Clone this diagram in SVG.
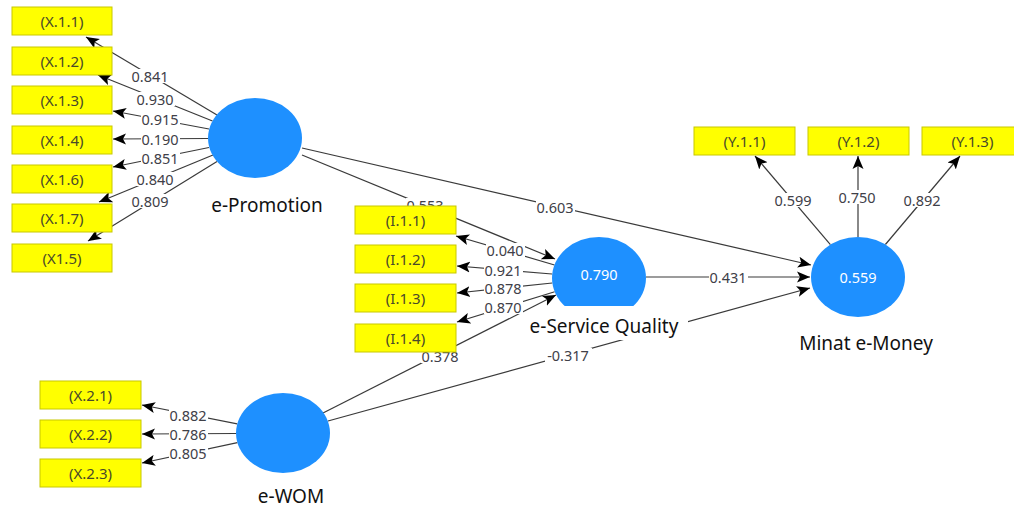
<svg xmlns="http://www.w3.org/2000/svg" width="1014" height="510" viewBox="0 0 1014 510">
<defs>
<marker id="ah" markerUnits="userSpaceOnUse" markerWidth="14" markerHeight="12" refX="13" refY="6" orient="auto">
<path d="M0,0.5 L13,6 L0,11.5 L3,6 Z" fill="#000"/>
</marker>
<style>
.bg{fill:#fff}
.ind rect{fill:#ffff00;stroke:#c8c800;stroke-width:1}
.ind text{font-family:"Noto Sans","Open Sans",sans-serif;font-size:15px;fill:#4a4a2a;text-anchor:middle;dominant-baseline:central}
.lv ellipse{fill:#1e90ff}
.lv text.v{font-family:"Noto Sans","Open Sans",sans-serif;font-size:14.5px;fill:#fff;text-anchor:middle;dominant-baseline:central}
.lv text.n{font-family:"Noto Sans","Open Sans",sans-serif;font-size:19px;fill:#111;text-anchor:middle}
.c line{stroke:#3a3a3a;stroke-width:1.2;marker-end:url(#ah)}
.lb rect{fill:#fff}
.lb text{font-family:"Noto Sans","Open Sans",sans-serif;font-size:14.5px;fill:#404048;text-anchor:middle;dominant-baseline:central}
</style>
</defs>
<rect width="1014" height="510" fill="#fff"/>

<g id="connectors" class="c">
<line x1="217" y1="115" x2="86" y2="37"/>
<line x1="212.5" y1="121" x2="98" y2="75"/>
<line x1="209" y1="129" x2="113" y2="111"/>
<line x1="208" y1="138.5" x2="113" y2="139"/>
<line x1="209" y1="147.5" x2="113" y2="167"/>
<line x1="213" y1="155" x2="99" y2="202"/>
<line x1="217" y1="161.5" x2="88" y2="241"/>
<line x1="554.5" y1="265" x2="456" y2="236"/>
<line x1="552" y1="274" x2="457" y2="266"/>
<line x1="552.3" y1="283" x2="457" y2="293"/>
<line x1="554.7" y1="291.7" x2="457" y2="322"/>
<line x1="830.4" y1="244.6" x2="755" y2="156"/>
<line x1="858" y1="237" x2="858" y2="156"/>
<line x1="885.4" y1="244.5" x2="960" y2="156"/>
<line x1="237.2" y1="423.9" x2="142" y2="405"/>
<line x1="236" y1="433.5" x2="142" y2="434"/>
<line x1="237.4" y1="442.7" x2="142" y2="463"/>
<line x1="302" y1="155" x2="555" y2="259"/>
<line x1="302" y1="148" x2="811" y2="265"/>
<line x1="646" y1="277" x2="810" y2="277"/>
<line x1="323" y1="413" x2="556" y2="295"/>
<line x1="328" y1="421" x2="810" y2="288"/>
</g>

<g id="labels" class="lb">
<rect x="131" y="69" width="39" height="14"/><text x="150" y="76">0.841</text>
<rect x="136" y="92" width="39" height="14"/><text x="155" y="99">0.930</text>
<rect x="141" y="112" width="39" height="14"/><text x="160" y="119">0.915</text>
<rect x="141" y="132" width="39" height="14"/><text x="160" y="139">0.190</text>
<rect x="141" y="151" width="39" height="14"/><text x="160" y="158">0.851</text>
<rect x="136" y="172" width="39" height="14"/><text x="155" y="179">0.840</text>
<rect x="131" y="194" width="39" height="14"/><text x="150" y="201">0.809</text>

<rect x="406" y="198" width="39" height="14"/><text x="425" y="205">0.553</text>
<rect x="536" y="200" width="39" height="14"/><text x="555" y="207">0.603</text>

<rect x="486" y="243" width="39" height="14"/><text x="505" y="250">0.040</text>
<rect x="484" y="263" width="39" height="14"/><text x="503" y="270">0.921</text>
<rect x="484" y="281" width="39" height="14"/><text x="503" y="288">0.878</text>
<rect x="484" y="300" width="39" height="14"/><text x="503" y="307">0.870</text>

<rect x="709" y="270" width="39" height="14"/><text x="728" y="277">0.431</text>

<rect x="774" y="193" width="39" height="14"/><text x="793" y="200">0.599</text>
<rect x="838" y="190" width="39" height="14"/><text x="857" y="197">0.750</text>
<rect x="903" y="193" width="39" height="14"/><text x="922" y="200">0.892</text>

<rect x="421" y="349" width="39" height="14"/><text x="440" y="356">0.378</text>
<rect x="545" y="348" width="47" height="14"/><text x="568" y="355">-0.317</text>

<rect x="169" y="408" width="39" height="14"/><text x="188" y="415">0.882</text>
<rect x="169" y="427" width="39" height="14"/><text x="188" y="434">0.786</text>
<rect x="169" y="446" width="39" height="14"/><text x="188" y="453">0.805</text>
</g>

<g id="X11" class="ind"><rect x="12" y="7" width="100" height="28"/><text x="62" y="21">(X.1.1)</text></g>
<g id="X12" class="ind"><rect x="12" y="47" width="100" height="28"/><text x="62" y="61">(X.1.2)</text></g>
<g id="X13" class="ind"><rect x="12" y="86" width="100" height="28"/><text x="62" y="100">(X.1.3)</text></g>
<g id="X14" class="ind"><rect x="12" y="126" width="100" height="28"/><text x="62" y="140">(X.1.4)</text></g>
<g id="X16" class="ind"><rect x="12" y="165" width="100" height="28"/><text x="62" y="179">(X.1.6)</text></g>
<g id="X17" class="ind"><rect x="12" y="204" width="100" height="28"/><text x="62" y="218">(X.1.7)</text></g>
<g id="X15" class="ind"><rect x="12" y="244" width="100" height="28"/><text x="62" y="258">(X1.5)</text></g>

<g id="I11" class="ind"><rect x="355" y="206" width="101" height="28"/><text x="405.5" y="220">(I.1.1)</text></g>
<g id="I12" class="ind"><rect x="355" y="245" width="101" height="28"/><text x="405.5" y="259">(I.1.2)</text></g>
<g id="I13" class="ind"><rect x="355" y="284" width="101" height="28"/><text x="405.5" y="298">(I.1.3)</text></g>
<g id="I14" class="ind"><rect x="355" y="324" width="101" height="28"/><text x="405.5" y="338">(I.1.4)</text></g>

<g id="Y11" class="ind"><rect x="694" y="127" width="101" height="28"/><text x="744.5" y="141">(Y.1.1)</text></g>
<g id="Y12" class="ind"><rect x="808" y="127" width="101" height="28"/><text x="858.5" y="141">(Y.1.2)</text></g>
<g id="Y13" class="ind"><rect x="922" y="127" width="101" height="28"/><text x="972.5" y="141">(Y.1.3)</text></g>

<g id="X21" class="ind"><rect x="40" y="381" width="101" height="28"/><text x="90.5" y="395">(X.2.1)</text></g>
<g id="X22" class="ind"><rect x="40" y="420" width="101" height="28"/><text x="90.5" y="434">(X.2.2)</text></g>
<g id="X23" class="ind"><rect x="40" y="459" width="101" height="28"/><text x="90.5" y="473">(X.2.3)</text></g>

<g id="ePromotion" class="lv">
<ellipse cx="255" cy="138" rx="47" ry="40"/>
<text class="n" x="267" y="212">e-Promotion</text>
</g>

<g id="eServiceQuality" class="lv">
<ellipse cx="599" cy="278" rx="47" ry="41"/>
<rect class="bg" x="545" y="306" width="143" height="34"/>
<text class="v" x="599" y="274">0.790</text>
<text class="n" x="604" y="333">e-Service Quality</text>
</g>

<g id="MinatEMoney" class="lv">
<ellipse cx="858" cy="277" rx="47" ry="40"/>
<text class="v" x="858" y="277">0.559</text>
<text class="n" x="866" y="350">Minat e-Money</text>
</g>

<g id="eWOM" class="lv">
<ellipse cx="283" cy="433" rx="47" ry="40"/>
<text class="n" x="291" y="503">e-WOM</text>
</g>
</svg>
